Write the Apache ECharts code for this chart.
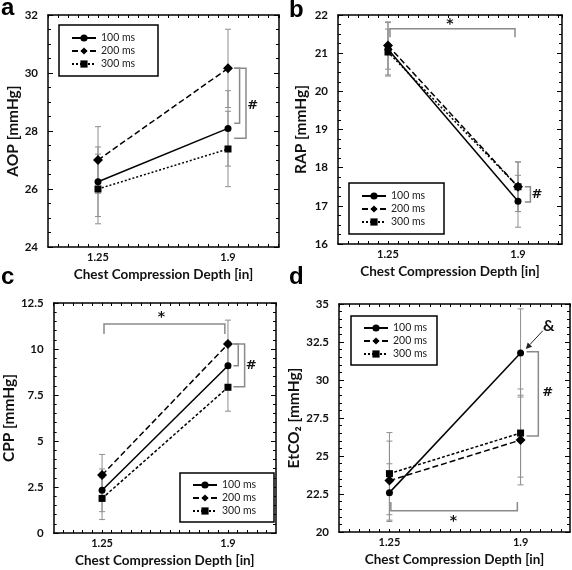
<!DOCTYPE html>
<html><head><meta charset="utf-8">
<script src="https://cdn.jsdelivr.net/npm/echarts@6/dist/echarts.min.js"></script>
<style>html,body{margin:0;padding:0;background:#fff}#c{width:572px;height:570px}</style>
</head><body><div id="c"></div>
<script>
// ---- data ----
const depths = [1.25, 1.9];
const depthLabels = ['1.25', '1.9'];
const durations = ['100 ms', '200 ms', '300 ms'];

const aopTicks = [24, 26, 28, 30, 32];
const aop100 = [26.25, 28.09];
const aop200 = [27.0, 30.16];
const aop300 = [26.0, 27.38];
const aopErr100 = [1.2, 1.3];
const aopErr200 = [1.15, 1.35];
const aopErr300 = [1.2, 1.3];

const rapTicks = [16, 17, 18, 19, 20, 21, 22];
const rap100 = [21.1, 17.12];
const rap200 = [21.2, 17.5];
const rap300 = [21.03, 17.5];
const rapErr100 = [0.7, 0.68];
const rapErr200 = [0.62, 0.65];
const rapErr300 = [0.6, 0.65];

const cppTicks = [0, 2.5, 5, 7.5, 10, 12.5];
const cpp100 = [2.32, 9.09];
const cpp200 = [3.15, 10.27];
const cpp300 = [1.88, 7.92];
const cppErr100 = [1.16, 1.3];
const cppErr200 = [1.12, 1.3];
const cppErr300 = [1.15, 1.3];

const etcoTicks = [20, 22.5, 25, 27.5, 30, 32.5, 35];
const etco100 = [22.59, 31.78];
const etco200 = [23.38, 26.05];
const etco300 = [23.84, 26.51];
const etcoErr100 = [1.9, 2.9];
const etcoErr200 = [2.6, 2.95];
const etcoErr300 = [2.7, 2.9];

// significance annotations (data coordinates)
const aopBrackets = [
  [[1.931, 30.16], [1.958, 30.16], [1.958, 28.27], [1.931, 28.27]],
  [[1.931, 30.16], [1.99, 30.16], [1.99, 27.75], [1.931, 27.75]]
];
const aopMarks = [['#', 2.024, 28.87]];
const rapBrackets = [
  [[1.26, 21.42], [1.26, 21.64], [1.885, 21.64], [1.885, 21.42]],
  [[1.934, 17.5], [1.962, 17.5], [1.962, 17.1], [1.934, 17.1]]
];
const rapMarks = [['*', 1.559, 21.8], ['#', 1.995, 17.3]];
const cppBrackets = [
  [[1.26, 10.82], [1.26, 11.36], [1.884, 11.36], [1.884, 10.82]],
  [[1.928, 10.27], [1.953, 10.27], [1.953, 9.09], [1.928, 9.09]],
  [[1.928, 10.27], [1.986, 10.27], [1.986, 7.95], [1.928, 7.95]]
];
const cppMarks = [['*', 1.556, 11.85], ['#', 2.02, 9.11]];
const etcoBrackets = [
  [[1.257, 21.98], [1.257, 21.4], [1.884, 21.4], [1.884, 21.98]],
  [[1.93, 31.86], [1.988, 31.86], [1.988, 26.32], [1.93, 26.32]]
];
const etcoMarks = [['*', 1.567, 20.8], ['#', 2.035, 29.19], ['&', 2.04, 33.55]];
const etcoArrows = [[[2.01, 33.24], [1.926, 32.04]]];

// ---- styling ----
const FONT = 'Lato';
const symbols = ['circle', 'diamond', 'rect'];
const symbolSizes = [7, 10, 7];
const ERR = '#8e8e8e';
const BR = '#8a8a8a';

const panels = [
  { letter: 'a', lx: 1, ly: 8.4, grid: { left: 48, top: 15, width: 231, height: 232 }, xMax: 2.155,
    ticks: aopTicks, minor: 4, name: 'AOP [mmHg]', nameGap: 23,
    lineTypes: ['solid', [6, 3], [2, 2]],
    vals: [aop100, aop200, aop300], errs: [aopErr100, aopErr200, aopErr300],
    legend: { left: 59, top: 25, padding: [7, 17, 6, 12] },
    brackets: aopBrackets, marks: aopMarks, arrows: [] },
  { letter: 'b', lx: 289, ly: 10, grid: { left: 338, top: 15, width: 224, height: 229 }, xMax: 2.12,
    ticks: rapTicks, minor: 4, name: 'RAP [mmHg]', nameGap: 29,
    lineTypes: ['solid', [6, 3], [2, 2]],
    vals: [rap100, rap200, rap300], errs: [rapErr100, rapErr200, rapErr300],
    legend: { left: 349, top: 183, padding: [7, 13, 6, 12] },
    brackets: rapBrackets, marks: rapMarks, arrows: [] },
  { letter: 'c', lx: 1, ly: 277.7, grid: { left: 45, top: 303, width: 231, height: 230 }, xMax: 2.148,
    ticks: cppTicks, minor: 5, name: 'CPP [mmHg]', nameGap: 24,
    lineTypes: ['solid', [6, 3], [3, 2]],
    vals: [cpp100, cpp200, cpp300], errs: [cppErr100, cppErr200, cppErr300],
    legend: { left: 180, top: 473, padding: [6, 12, 5, 12] },
    brackets: cppBrackets, marks: cppMarks, arrows: [] },
  { letter: 'd', lx: 289, ly: 277.7, grid: { left: 339, top: 304, width: 231, height: 228 }, xMax: 2.145,
    ticks: etcoTicks, minor: 5, name: 'EtCO\u2082 [mmHg]', nameGap: 32,
    lineTypes: ['solid', [6, 3], [3, 2]],
    vals: [etco100, etco200, etco300], errs: [etcoErr100, etcoErr200, etcoErr300],
    legend: { left: 351, top: 316, padding: [6, 4, 5, 12] },
    brackets: etcoBrackets, marks: etcoMarks, arrows: etcoArrows }
];

const option = {
  animation: false,
  backgroundColor: '#fff',
  grid: [], xAxis: [], yAxis: [], series: [], legend: [], graphic: []
};

function labelFor(v) {
  for (let k = 0; k < depths.length; k++) if (Math.abs(v - depths[k]) < 1e-6) return depthLabels[k];
  return '';
}

panels.forEach((p, i) => {
  option.grid.push(Object.assign({ containLabel: false, show: false }, p.grid));
  const xBase = { gridIndex: i, type: 'value', min: 1, max: p.xMax, interval: 0.05,
    splitLine: { show: false },
    axisLine: { show: true, onZero: false, lineStyle: { color: '#000', width: 1.5 } },
    axisTick: { show: true, inside: true, length: 3, lineStyle: { color: '#000', width: 1 } } };
  option.xAxis.push(Object.assign({}, xBase, {
    position: 'bottom',
    name: 'Chest Compression Depth [in]', nameLocation: 'middle', nameGap: 21,
    nameTextStyle: { fontFamily: FONT, fontWeight: 'bold', fontSize: 13.5, color: '#111' },
    axisLabel: { show: true, margin: 5, fontFamily: FONT, fontWeight: 'bold', fontSize: 11, color: '#111',
      formatter: labelFor, showMinLabel: false, showMaxLabel: false, hideOverlap: false }
  }));
  option.xAxis.push(Object.assign({}, xBase, { position: 'top', axisLabel: { show: false } }));
  const t = p.ticks;
  const yBase = { gridIndex: i, type: 'value', min: t[0], max: t[t.length - 1], interval: t[1] - t[0],
    splitLine: { show: false },
    axisLine: { show: true, onZero: false, lineStyle: { color: '#000', width: 1.5 } },
    axisTick: { show: true, inside: true, length: 5, lineStyle: { color: '#000', width: 1 } },
    minorTick: { show: true, splitNumber: p.minor, length: 3, lineStyle: { color: '#000', width: 1 } } };
  option.yAxis.push(Object.assign({}, yBase, {
    position: 'left',
    name: p.name, nameLocation: 'middle', nameGap: p.nameGap, nameRotate: 90,
    nameTextStyle: { fontFamily: FONT, fontWeight: 'bold', fontSize: 15.5, color: '#111' },
    axisLabel: { show: true, margin: 10, fontFamily: FONT, fontWeight: 'bold', fontSize: 11.5, color: '#111' }
  }));
  option.yAxis.push(Object.assign({}, yBase, { position: 'right', axisLabel: { show: false } }));
  const xi = i * 2, yi = i * 2;

  p.vals.forEach((vals, s) => {
    const errs = p.errs[s];
    option.series.push({
      type: 'custom', xAxisIndex: xi, yAxisIndex: yi, z: 2, silent: true,
      data: depths.map((d, k) => [d, vals[k]]),
      renderItem: (params, api) => {
        const k = params.dataIndex;
        const top = api.coord([depths[k], vals[k] + errs[k]]);
        const bot = api.coord([depths[k], vals[k] - errs[k]]);
        const w = 3, st = { stroke: ERR, lineWidth: 1 };
        return { type: 'group', children: [
          { type: 'line', shape: { x1: top[0], y1: top[1], x2: bot[0], y2: bot[1] }, style: st },
          { type: 'line', shape: { x1: top[0] - w, y1: top[1], x2: top[0] + w, y2: top[1] }, style: st },
          { type: 'line', shape: { x1: bot[0] - w, y1: bot[1], x2: bot[0] + w, y2: bot[1] }, style: st }
        ] };
      }
    });
  });

  p.vals.forEach((vals, s) => {
    option.series.push({
      type: 'line', name: durations[s], xAxisIndex: xi, yAxisIndex: yi, z: 5,
      data: depths.map((d, k) => [d, vals[k]]),
      symbol: symbols[s], symbolSize: symbolSizes[s], showSymbol: true,
      lineStyle: { color: '#000', width: 1.5, type: p.lineTypes[s] },
      itemStyle: { color: '#000' }
    });
  });

  option.series.push({
    type: 'custom', xAxisIndex: xi, yAxisIndex: yi, z: 3, silent: true,
    data: p.brackets.map(b => b[0]),
    renderItem: (params, api) => {
      const pts = p.brackets[params.dataIndex].map(q => api.coord(q));
      return { type: 'polyline', shape: { points: pts }, style: { stroke: BR, lineWidth: 1.5, fill: null } };
    }
  });
  option.series.push({
    type: 'custom', xAxisIndex: xi, yAxisIndex: yi, z: 6, silent: true,
    data: p.marks.map(m => [m[1], m[2]]),
    renderItem: (params, api) => {
      const m = p.marks[params.dataIndex];
      const c = api.coord([m[1], m[2]]);
      let font = 'bold 13px "DejaVu Sans"', dy = 0;
      if (m[0] === '*') { font = 'bold 14px "DejaVu Sans"'; dy = 2; }
      if (m[0] === '&') { font = 'bold 16px ' + FONT; }
      return { type: 'text', style: { text: m[0], x: c[0], y: c[1] + dy, align: 'center', verticalAlign: 'middle',
        font: font, fill: '#111' } };
    }
  });
  if (p.arrows.length) {
    option.series.push({
      type: 'custom', xAxisIndex: xi, yAxisIndex: yi, z: 6, silent: true,
      data: p.arrows.map(a => a[0]),
      renderItem: (params, api) => {
        const a = p.arrows[params.dataIndex];
        const s0 = api.coord(a[0]), s1 = api.coord(a[1]);
        const ang = Math.atan2(s1[1] - s0[1], s1[0] - s0[0]);
        const L = 6, W = 3;
        const bx = s1[0] - L * Math.cos(ang), by = s1[1] - L * Math.sin(ang);
        const px = -Math.sin(ang) * W, py = Math.cos(ang) * W;
        return { type: 'group', children: [
          { type: 'line', shape: { x1: s0[0], y1: s0[1], x2: bx, y2: by }, style: { stroke: '#222', lineWidth: 1 } },
          { type: 'polygon', shape: { points: [[s1[0], s1[1]], [bx + px, by + py], [bx - px, by - py]] }, style: { fill: '#222' } }
        ] };
      }
    });
  }

  option.legend.push({
    show: true, orient: 'vertical', left: p.legend.left, top: p.legend.top,
    padding: p.legend.padding, itemGap: 1, itemWidth: 24, itemHeight: 9,
    borderColor: '#000', borderWidth: 1.5, backgroundColor: '#fff',
    data: durations, selectedMode: false,
    formatter: name => '{t|' + name + '}',
    textStyle: { fontFamily: FONT, fontSize: 10.5, color: '#222',
      rich: { t: { width: 40, height: 12, lineHeight: 12, fontFamily: FONT, fontSize: 10.5, color: '#222', align: 'left' } } }
  });

  option.graphic.push({ type: 'text', left: p.lx, top: p.ly - 12,
    style: { text: p.letter, font: 'bold 24px "Liberation Sans"', fill: '#000' } });
});

const chart = echarts.init(document.getElementById('c'), null, { renderer: 'canvas' });
chart.setOption(option);
</script>
</body></html>
